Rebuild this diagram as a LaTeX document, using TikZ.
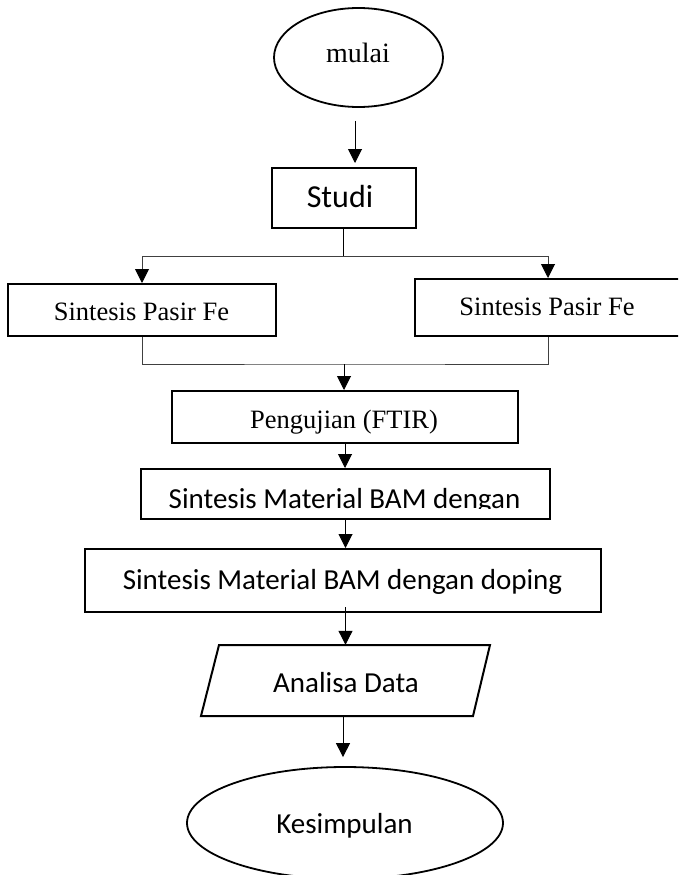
\documentclass[tikz,border=0pt]{standalone}
\usepackage{fontspec}
\usetikzlibrary{arrows.meta,shapes.geometric}
\newfontfamily\serifT{Liberation Serif}
\newfontfamily\sansC{Carlito}
\tikzset{
  boxshape/.style={draw=black, line width=2pt, rectangle, inner sep=0pt},
  ovalshape/.style={draw=black, line width=1.8pt, ellipse, inner sep=0pt},
  conn/.style={draw=black, line width=1pt},
  greyconn/.style={draw=black!75, line width=1pt},
  flowarrow/.style={-{Triangle[length=14pt,width=14pt]}},
  sertext/.style={anchor=base, inner sep=0pt, font=\serifT\fontsize{26.5}{30}\selectfont},
  santext/.style={anchor=base, inner sep=0pt, font=\sansC\fontsize{29}{33}\selectfont},
}
\begin{document}
\begin{tikzpicture}[x=1pt,y=-1pt]
\useasboundingbox (0,0) rectangle (678,875);
\clip (0,0) rectangle (678,875);
\fill[white] (0,0) rectangle (678,875);

% shapes
\node[ovalshape, minimum width=169pt, minimum height=99pt] (mulai) at (358.5,57.5) {};
\node[boxshape, minimum width=144pt, minimum height=60pt] (studi) at (344,198) {};
\node[boxshape, minimum width=268pt, minimum height=52pt] (left) at (142,310) {};
\node[boxshape, minimum width=266pt, minimum height=57pt] (right) at (548,307.5) {};
\node[boxshape, minimum width=346pt, minimum height=52pt] (peng) at (345,417) {};
\node[boxshape, minimum width=409pt, minimum height=50pt] (bam) at (345.5,494) {};
\node[boxshape, minimum width=516pt, minimum height=63pt] (bamdop) at (343,580.5) {};
\node[rectangle, draw=none, inner sep=0pt, minimum width=289pt, minimum height=71pt] (ana) at (345.5,680.5) {};
\draw[line width=2pt, line join=miter] (219,645) -- (490,645) -- (473,716) -- (201,716) -- cycle;
\node[ovalshape, minimum width=316pt, minimum height=112pt] (kes) at (345,823) {};

% texts
\node[sertext, font=\serifT\fontsize{28}{32}\selectfont] (tmulai) at (358,63) {mulai};
\node[santext, font=\sansC\fontsize{32}{36}\selectfont] (tstudi) at (340,207) {Studi};
\node[sertext] (tleft) at (141.5,320.5) {Sintesis Pasir Fe};
\node[sertext] (tright) at (547,315) {Sintesis Pasir Fe};
\node[sertext] (tpeng) at (344,428) {Pengujian (FTIR)};
\begin{scope}
  \clip (141,469) rectangle (550,508.5);
  \node[santext] (tbam) at (344.5,508) {Sintesis Material BAM dengan};
\end{scope}
\node[santext] (tbamdop) at (342.5,589) {Sintesis Material BAM dengan doping};
\node[santext] (tana) at (346,692) {Analisa Data};
\node[santext] (tkes) at (344.5,833) {Kesimpulan};

% connectors
\coordinate (arrx) at (355,0);
\coordinate (split) at (343,256);
\coordinate (join) at (344,364);
\draw[conn, flowarrow, shorten <=13pt, shorten >=4pt] (mulai.south -| arrx) -- (studi.north -| arrx);
\draw[conn] (studi.south -| split) -- (split);
\draw[greyconn] (split) -| ([yshift=14pt]left.north);
\draw[greyconn] (split) -| ([yshift=14pt]right.north);
\draw[conn, flowarrow] ([yshift=14.5pt]left.north) -- (left.north);
\draw[conn, flowarrow] ([yshift=14.5pt]right.north) -- (right.north);
\draw[greyconn] (left.south) |- (join) -| (right.south);
\draw[conn, flowarrow] (join) -- (peng.north -| join);
\draw[conn, flowarrow] (peng.south) -- (bam.north -| peng.south);
\draw[conn, flowarrow] (bam.south) -- (bamdop.north -| bam.south);
\draw[conn, flowarrow, shorten <=-6pt] (bamdop.south -| ana.north) -- (ana.north);
\draw[conn, flowarrow, shorten >=9pt] (ana.south -| 343,0) -- (kes.north -| 343,0);
\end{tikzpicture}
\end{document}
